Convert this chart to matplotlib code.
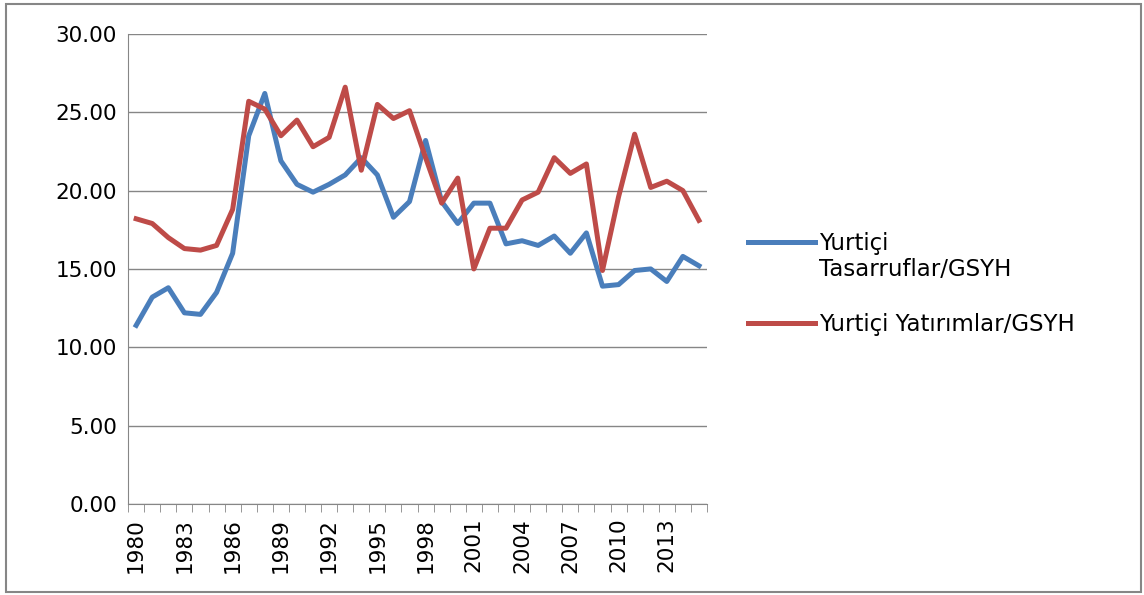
import numpy as np
import matplotlib.pyplot as plt
from matplotlib.patches import Rectangle
from matplotlib.legend_handler import HandlerLine2D

years = list(range(1980, 2016))
tasarruf = [11.4, 13.2, 13.8, 12.2, 12.1, 13.5, 16.0, 23.5, 26.2, 21.9,
            20.4, 19.9, 20.4, 21.0, 22.1, 21.0, 18.3, 19.3, 23.2, 19.3,
            17.9, 19.2, 19.2, 16.6, 16.8, 16.5, 17.1, 16.0, 17.3, 13.9,
            14.0, 14.9, 15.0, 14.2, 15.8, 15.2]
yatirim = [18.2, 17.9, 17.0, 16.3, 16.2, 16.5, 18.8, 25.7, 25.2, 23.5,
           24.5, 22.8, 23.4, 26.6, 21.3, 25.5, 24.6, 25.1, 22.1, 19.2,
           20.8, 15.0, 17.6, 17.6, 19.4, 19.9, 22.1, 21.1, 21.7, 14.9,
           19.6, 23.6, 20.2, 20.6, 20.0, 18.1]
labels = ["Yurtiçi\nTasarruflar/GSYH", "Yurtiçi Yatırımlar/GSYH"]


class FirstLineHandler(HandlerLine2D):
    # put the legend line next to the first text line, like Excel does
    def __init__(self, shift, **kw):
        super().__init__(**kw)
        self.shift = shift

    def create_artists(self, legend, orig_handle, xdescent, ydescent,
                       width, height, fontsize, trans):
        arts = super().create_artists(legend, orig_handle, xdescent, ydescent,
                                      width, height, fontsize, trans)
        for a in arts:
            a.set_ydata(np.asarray(a.get_ydata()) + self.shift * fontsize)
        return arts


plt.rcParams['font.family'] = ['DejaVu Sans']

fig = plt.figure(figsize=(11.44, 5.95), dpi=100)
ax = fig.add_axes([0.112, 0.153, 0.506, 0.790])

x = np.arange(len(years))
l1, = ax.plot(x, tasarruf, color='#4A7EBB', lw=3.6, label=labels[0])
l2, = ax.plot(x, yatirim, color='#BE4B48', lw=3.6, label=labels[1])

ax.set_ylim(0, 30)
ax.set_yticks(np.arange(0, 31, 5))
ax.set_yticklabels([f"{v:.2f}" for v in np.arange(0, 31, 5)], fontsize=15.5)
ax.set_xlim(-0.5, len(years) - 0.5)
ax.set_xticks(x[::3])
ax.set_xticklabels([str(y) for y in years[::3]], rotation=90, fontsize=15.5)
ax.set_xticks(np.arange(-0.5, len(years)), minor=True)
ax.tick_params(axis='x', which='major', length=0, pad=10)
ax.tick_params(axis='x', which='minor', length=6, color='#868686', direction='out')
ax.tick_params(axis='y', length=0, pad=8)

ax.grid(axis='y', color='#868686', lw=1)
ax.set_axisbelow(True)
for s in ['top', 'right']:
    ax.spines[s].set_visible(False)
ax.spines['left'].set_color('#868686')
ax.spines['bottom'].set_color('#868686')

ax.legend(loc='center left', bbox_to_anchor=(1.071, 0.468), frameon=False,
          fontsize=16.5, handlelength=2.9, handletextpad=0.2, labelspacing=1.4,
          borderaxespad=0, borderpad=0,
          handler_map={l1: FirstLineHandler(0.68)})

fig.patches.append(Rectangle((0.0052, 0.005), 0.992, 0.988, transform=fig.transFigure,
                             fill=False, edgecolor='#868686', lw=1.5))

fig.savefig('out.png', dpi=100)
